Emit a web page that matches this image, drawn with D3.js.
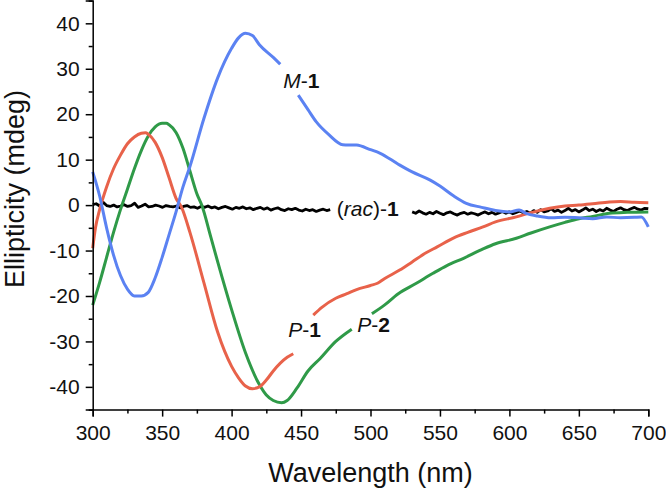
<!DOCTYPE html>
<html>
<head>
<meta charset="utf-8">
<script src="https://cdn.jsdelivr.net/npm/d3@7"></script>
<style>
  html, body { margin: 0; padding: 0; background: #fff; }
  svg { display: block; font-family: "Liberation Sans", Arial, sans-serif; }
</style>
</head>
<body>
<svg id="chart" width="666" height="488"></svg>
<script>
// ---- data (wavelength nm, ellipticity mdeg); null marks a gap behind a label ----
const m1Wl = [300,305,310,315,320,325,330,335,340,345,350,355,360,365,370,380,390,400,405,410,415,420,430,435,null,448,455,461,470,480,490,500,507,520,530,543,550,560,569,580,590,600,607,612,620,630,640,650,660,670,680,690,695,700];
const m1Val = [7.3,2,-5,-11,-15.5,-18.5,-20,-20,-19.2,-16,-11.5,-6.5,-1.5,4,8.5,19,28,34.5,36.8,37.8,37.3,35.3,32.5,31,null,24.2,21,18.3,15.5,13.3,13.2,12.2,11.4,9,7.3,5.5,4.2,2,0.4,-0.5,-1.2,-1.5,-1.1,-1.8,-2.4,-2.8,-2.7,-2.8,-3,-2.6,-2.8,-2.7,-2.6,-4.8];

const p1Wl = [300,302,305,310,315,320,325,330,335,338,340,345,350,355,360,364,370,380,390,400,405,410,415,420,425,430,440,444.4,null,458.8,465,475,483,490,500,505,510,521,530,540,548,560,570,581,590,605,615,629,640,650,660,672,680,690,700];
const p1Val = [-9.5,-5,-1,4,8,11,13.5,15,15.8,15.9,15.6,13.8,10.5,6,1.5,-0.5,-6,-17,-28,-35.5,-38,-39.8,-40.4,-40,-38.5,-36.5,-33.5,-32.7,null,-24.2,-22.5,-20.5,-19.5,-18.6,-17.7,-17.2,-16.2,-14.3,-12.5,-10.5,-9.2,-7.2,-6,-4.8,-3.7,-2.6,-1.7,-0.7,-0.2,0,0.3,0.7,0.8,0.6,0.5];

const p2Wl = [300,305,310,315,320,325,330,335,340,345,350,353,355,360,365,370,375,378.5,385,390,400,410,420,425,430,436,440,447,455,463.6,475,486.5,null,501,510,520,533,545,555,567,580,590,605,615,629,640,650,660,672,685,700];
const p2Val = [-22,-17,-11.5,-6,-1,3.5,8,12,15.2,17.2,18,18,17.7,16,12.5,7.5,2.5,0,-7,-12.5,-23,-32.5,-39.5,-41.8,-43,-43.5,-43,-40.3,-36.5,-33.8,-30,-27.3,null,-23.9,-22,-19.5,-17.2,-15,-13.3,-11.7,-9.8,-8.5,-7.3,-6.2,-4.8,-3.8,-3,-2.5,-1.8,-1.6,-1.5];

// racemic trace, sampled evenly over two ranges (broken by its label)
const racRange1 = [300, 471];
const racVal1 = [0.1,0.3,-0.2,0.6,-0.1,-0.3,0.0,-0.4,-0.2,0.1,-0.3,-0.1,0.4,-0.5,-0.2,0.2,-0.4,-0.3,0.0,-0.2,-0.5,-0.1,-0.3,-0.4,-0.2,-0.6,-0.3,-0.1,-0.5,-0.4,-0.7,-0.3,-0.5,-0.2,-0.6,-0.4,-0.8,-0.5,-0.3,-0.6,-0.9,-0.5,-0.7,-0.4,-0.8,-0.6,-1.0,-0.7,-0.5,-0.9,-0.6,-1.1,-0.8,-0.6,-1.0,-1.2,-0.8,-1.0,-0.7,-1.1,-1.3,-0.9,-1.2,-1.0,-1.4,-1.1,-0.9,-1.2,-1.0];
const racRange2 = [530, 700];
const racVal2 = [-1.5,-1.8,-1.3,-1.7,-2.0,-1.6,-1.9,-1.4,-1.8,-2.1,-1.7,-1.5,-1.9,-2.2,-1.8,-1.6,-2.0,-1.7,-1.9,-2.2,-1.8,-1.5,-1.9,-1.6,-2.0,-1.7,-1.4,-1.8,-1.5,-1.9,-1.6,-1.3,-1.7,-1.4,-1.8,-1.2,-1.6,-1.0,-1.5,-1.3,-0.8,-1.4,-1.1,-1.6,-1.2,-0.7,-1.3,-1.0,-1.5,-1.1,-0.6,-1.2,-0.9,-1.4,-1.0,-1.3,-0.7,-1.1,-1.4,-0.9,-0.6,-1.0,-1.2,-0.8,-0.5,-0.9,-1.1,-0.7,-0.8];

const xTicks = [300,350,400,450,500,550,600,650,700];
const yTicks = [-40,-30,-20,-10,0,10,20,30,40];

// curve labels, anchored at data coordinates
const labelNames = ["M-1", "P-1", "P-2", "(rac)-1"];
const labelWl = [437.2, 440.8, 490.5, 475.7];
const labelVal = [25.7, -29.1, -28.0, -2.4];

// ---- drawing ----
const svg = d3.select("#chart");
const L = 92.7, R = 648.3, T = 0.6, B = 409.6;
const x = d3.scaleLinear().domain([300, 700]).range([L, R]);
const y = d3.scaleLinear().domain([-45, 45]).range([B, T]);

const toPts = (wl, v) => wl.map((w, i) => (w === null ? null : [w, v[i]]));
const evenPts = (range, v) => v.map((d, i) => [range[0] + i * (range[1] - range[0]) / (v.length - 1), d]);

const smooth = d3.line().defined(d => d !== null).x(d => x(d[0])).y(d => y(d[1])).curve(d3.curveMonotoneX);
const raw = d3.line().x(d => x(d[0])).y(d => y(d[1]));

const g = svg.append("g");
g.append("path").attr("d", raw(evenPts(racRange1, racVal1))).attr("fill", "none").attr("stroke", "#000").attr("stroke-width", 2.8).attr("stroke-linejoin", "round");
g.append("path").attr("d", raw(evenPts(racRange2, racVal2))).attr("fill", "none").attr("stroke", "#000").attr("stroke-width", 2.8).attr("stroke-linejoin", "round");
g.append("path").attr("d", smooth(toPts(p2Wl, p2Val))).attr("fill", "none").attr("stroke", "#2f9a48").attr("stroke-width", 3);
g.append("path").attr("d", smooth(toPts(p1Wl, p1Val))).attr("fill", "none").attr("stroke", "#e8624a").attr("stroke-width", 3);
g.append("path").attr("d", smooth(toPts(m1Wl, m1Val))).attr("fill", "none").attr("stroke", "#5b82f2").attr("stroke-width", 3);

// axes
svg.append("g").attr("transform", `translate(0,${B})`)
  .call(d3.axisBottom(x).tickValues(xTicks).tickFormat(d3.format("d")).tickSize(7).tickPadding(8));
svg.append("g").attr("transform", `translate(0,${B})`)
  .call(d3.axisBottom(x).tickValues(d3.range(325, 700, 50)).tickFormat("").tickSize(4))
  .call(s => s.select(".domain").remove());
const yAxis = svg.append("g").attr("transform", `translate(${L},0)`)
  .call(d3.axisLeft(y).tickValues(yTicks).tickFormat(d3.format("d")).tickSize(7).tickPadding(6));
svg.append("g").attr("transform", `translate(${L},0)`)
  .call(d3.axisLeft(y).tickValues(d3.range(-45, 50, 10)).tickFormat("").tickSize(4))
  .call(s => s.select(".domain").remove());

svg.selectAll(".domain").attr("stroke", "#000").attr("stroke-width", 1.5);
svg.selectAll(".tick line").attr("stroke", "#000").attr("stroke-width", 1.5);
svg.selectAll(".tick text").attr("font-size", 21).attr("font-family", "Liberation Sans, Arial, sans-serif").attr("fill", "#111");
yAxis.selectAll(".tick text").text(d => d < 0 ? "-" + Math.abs(d) : d);

// axis titles
svg.append("text").attr("x", (L + R) / 2).attr("y", 482).attr("text-anchor", "middle")
  .attr("font-size", 27).attr("fill", "#111").text("Wavelength (nm)");
svg.append("text").attr("transform", `translate(24,189) rotate(-90)`).attr("text-anchor", "middle")
  .attr("font-size", 27).attr("fill", "#111").text("Ellipticity (mdeg)");

// curve labels
function addLabel(name, wl, v) {
  const t = svg.append("text").attr("x", x(wl)).attr("y", y(v)).attr("font-size", 21).attr("fill", "#111");
  if (name.startsWith("(")) {
    t.append("tspan").text("(");
    t.append("tspan").attr("font-style", "italic").text("rac");
    t.append("tspan").text(")-");
    t.append("tspan").attr("font-weight", "bold").text("1");
  } else {
    const [letter, num] = name.split("-");
    t.append("tspan").attr("font-style", "italic").text(letter);
    t.append("tspan").text("-");
    t.append("tspan").attr("font-weight", "bold").text(num);
  }
}
labelNames.forEach((n, i) => addLabel(n, labelWl[i], labelVal[i]));
</script>
</body>
</html>
